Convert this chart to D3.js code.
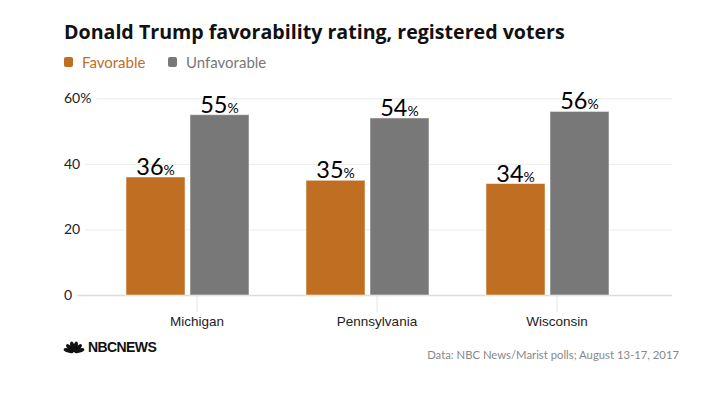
<!DOCTYPE html>
<html>
<head>
<meta charset="utf-8">
<script src="https://cdn.jsdelivr.net/npm/d3@7"></script>
<style>
  html, body { margin: 0; padding: 0; background: #fff; }
  svg { display: block; }
</style>
</head>
<body>
<svg id="chart" width="705" height="395"></svg>
<script>
// ---- data ----
const states = ["Michigan", "Pennsylvania", "Wisconsin"];
const seriesNames = ["Favorable", "Unfavorable"];
const favorable = [36, 35, 34];
const unfavorable = [55, 54, 56];
const yTicks = [0, 20, 40, 60];
const colors = ["#bf6e22", "#787878"];
const titleText = "Donald Trump favorability rating, registered voters";
const sourceText = "Data: NBC News/Marist polls; August 13-17, 2017";

const rows = states.map((s, i) => ({ state: s, values: [favorable[i], unfavorable[i]] }));

const svg = d3.select("#chart");
const mainFont = "Lato, 'Open Sans', sans-serif";

// fit a text element's font size so its width matches a target width
function fitWidth(sel, target) {
  const w = sel.node().getComputedTextLength();
  const fs = parseFloat(sel.attr("font-size"));
  if (w > 0) sel.attr("font-size", (fs * target / w).toFixed(2));
}

// scales
const y = d3.scaleLinear().domain([0, 60]).range([295, 98.3]);
const x0 = d3.scaleBand().domain(states).range([107, 647]).padding(0);
const x1 = d3.scaleBand().domain(seriesNames).range([0, 123]).paddingInner(0.078).paddingOuter(0);
const groupOffset = 19;
const plotLeft = 77, plotRight = 672, labelX = 64;

// title
const title = svg.append("text")
  .attr("x", 64).attr("y", 38.5)
  .attr("font-family", "'Open Sans', Lato, sans-serif").attr("font-weight", 700)
  .attr("font-size", 20).attr("fill", "#111")
  .text(titleText);
fitWidth(title, 501);

// legend
const legend = svg.append("g");
const legendPos = [64, 168];
seriesNames.forEach((n, i) => {
  legend.append("rect")
    .attr("x", legendPos[i]).attr("y", 57).attr("width", 9).attr("height", 10)
    .attr("rx", 2).attr("fill", colors[i]);
  legend.append("text")
    .attr("x", legendPos[i] + 18).attr("y", 67.5)
    .attr("font-family", mainFont).attr("font-size", 15)
    .attr("fill", colors[i]).text(n);
});

// y axis labels + gridlines
const yAxis = svg.append("g");
yTicks.forEach(t => {
  const label = yAxis.append("text")
    .attr("x", labelX).attr("y", y(t)).attr("dy", "0.35em")
    .attr("font-family", mainFont).attr("font-size", 14)
    .attr("fill", "#222")
    .text(t === 60 ? t + "%" : String(t));
  const w = label.node().getComputedTextLength();
  const start = t === 0 ? plotLeft : Math.max(plotLeft, labelX + w + 5);
  yAxis.insert("line", ":first-child")
    .attr("x1", start).attr("x2", plotRight)
    .attr("y1", y(t) + 0.5).attr("y2", y(t) + 0.5)
    .attr("stroke", t === 0 ? "#dcdcdc" : "#ececec").attr("stroke-width", t === 0 ? 1.5 : 1);
});

// x axis (category ticks and labels)
const xAxis = svg.append("g")
  .attr("transform", "translate(0,295)")
  .call(d3.axisBottom(x0).tickSize(17).tickSizeOuter(0));
xAxis.select(".domain").remove();
xAxis.selectAll(".tick line").attr("stroke", "#e6e6e6");
xAxis.selectAll(".tick text")
  .attr("y", 31).attr("dy", 0)
  .attr("font-family", "'Liberation Sans', Arial, sans-serif")
  .attr("font-size", 13.5).attr("fill", "#222");

// bars
const groups = svg.append("g").selectAll("g")
  .data(rows).join("g")
  .attr("transform", d => `translate(${x0(d.state) + groupOffset},0)`);

groups.selectAll("rect")
  .data(d => d.values.map((v, i) => ({ key: seriesNames[i], v, i })))
  .join("rect")
  .attr("x", d => x1(d.key))
  .attr("width", x1.bandwidth())
  .attr("y", d => y(d.v))
  .attr("height", d => y(0) - y(d.v))
  .attr("fill", d => colors[d.i])
  .attr("stroke", "rgba(255,255,255,0.5)")
  .attr("stroke-width", 1);

// value labels
const vl = groups.selectAll("text.val")
  .data(d => d.values.map((v, i) => ({ key: seriesNames[i], v, i })))
  .join("text")
  .attr("class", "val")
  .attr("x", d => x1(d.key) + x1.bandwidth() / 2)
  .attr("y", d => y(d.v) - 2)
  .attr("text-anchor", "middle")
  .attr("font-family", mainFont)
  .attr("fill", "#000");
vl.append("tspan").attr("font-size", 23.5).text(d => d.v);
vl.append("tspan").attr("font-size", 14).text("%");

// NBC logo
const logo = svg.append("g").attr("transform", "translate(74,352)");
const feathers = [-75, -45, -15, 15, 45, 75];
logo.selectAll("ellipse")
  .data(feathers).join("ellipse")
  .attr("cx", 0).attr("cy", -5.5)
  .attr("rx", 2.1).attr("ry", 5.2)
  .attr("transform", a => `rotate(${a})`)
  .attr("fill", "#111");
logo.append("text")
  .attr("x", 14).attr("y", 0)
  .attr("font-family", "'Liberation Sans', Arial, sans-serif")
  .attr("font-weight", 700).attr("font-size", 14)
  .attr("letter-spacing", -0.6)
  .attr("fill", "#111").text("NBCNEWS");

// source
const source = svg.append("text")
  .attr("x", 679).attr("y", 358.5)
  .attr("text-anchor", "end")
  .attr("font-family", mainFont).attr("font-size", 12)
  .attr("fill", "#888")
  .text(sourceText);
fitWidth(source, 252);
</script>
</body>
</html>
